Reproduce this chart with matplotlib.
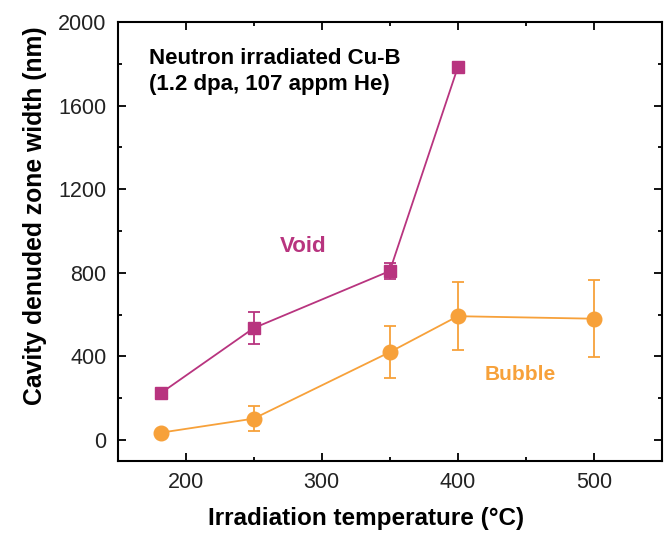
import matplotlib.pyplot as plt
from matplotlib.ticker import MultipleLocator

plt.rcParams['font.family'] = ['Liberation Sans', 'DejaVu Sans']

# irradiation temperature (C) and denuded zone widths (nm)
void_temp = [182, 250, 350, 400]
void_width = [225, 535, 808, 1783]
void_err = [0, 78, 38, 0]

bubble_temp = [182, 250, 350, 400, 500]
bubble_width = [35, 102, 420, 592, 580]
bubble_err = [0, 58, 125, 162, 185]

void_color = '#B8347F'
bubble_color = '#F7A13A'

fig = plt.figure(figsize=(6.72, 5.34), dpi=100)
ax = fig.add_axes([0.175, 0.137, 0.81, 0.822])

ax.errorbar(void_temp, void_width, yerr=void_err, color=void_color, marker='s',
            markersize=8.5, linewidth=1.3, capsize=4, elinewidth=1.3, capthick=1.3)
ax.errorbar(bubble_temp, bubble_width, yerr=bubble_err, color=bubble_color, marker='o',
            markersize=10.5, linewidth=1.3, capsize=4, elinewidth=1.3, capthick=1.3)

ax.set_xlim(150, 550)
ax.set_ylim(-100, 2000)
ax.xaxis.set_major_locator(MultipleLocator(100))
ax.xaxis.set_minor_locator(MultipleLocator(50))
ax.yaxis.set_major_locator(MultipleLocator(400))
ax.yaxis.set_minor_locator(MultipleLocator(200))
ax.tick_params(which='both', direction='in', top=True, right=True,
               labelsize=15.5, labelcolor='#222222', width=1.3)
ax.tick_params(which='major', length=6, pad=8)
ax.tick_params(which='minor', length=3)
for s in ax.spines.values():
    s.set_linewidth(1.5)

ax.set_xlabel('Irradiation temperature (\u00b0C)', fontsize=17.5, fontweight='bold')
ax.set_ylabel('Cavity denuded zone width (nm)', fontsize=17.8, fontweight='bold', labelpad=8)
ax.xaxis.set_label_coords(0.456, -0.106)
ax.yaxis.label.set_y(0.558)

ax.text(0.0575, 0.94, 'Neutron irradiated Cu-B\n(1.2 dpa, 107 appm He)', transform=ax.transAxes,
        fontsize=16, fontweight='bold', va='top', ha='left', linespacing=1.3)
ax.text(286, 926, 'Void', color=void_color, fontsize=16, fontweight='bold', ha='center', va='center')
ax.text(446, 312, 'Bubble', color=bubble_color, fontsize=15, fontweight='bold', ha='center', va='center')

fig.savefig('out.png', dpi=100)
